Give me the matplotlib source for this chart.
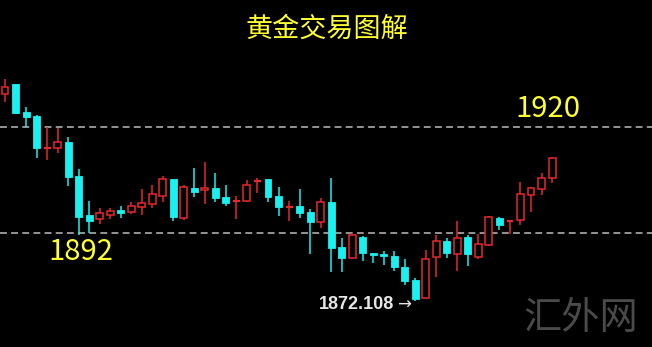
import numpy as np
import matplotlib
matplotlib.use("Agg")
import matplotlib.pyplot as plt
from matplotlib.patches import Rectangle

# ── DATA ──────────────────────────────────────────────────────
OPEN = [1928.6, 1931.2, 1923.9, 1922.8, 1914.4, 1914.4, 1916.0, 1907.1, 1896.9, 1895.8,
        1896.9, 1898.2, 1897.6, 1899.0, 1899.7, 1901.8, 1906.3, 1896.1, 1903.9, 1903.4,
        1903.9, 1901.6, 1900.3, 1900.5, 1905.5, 1906.3, 1901.8, 1898.7, 1899.2, 1897.6,
        1895.0, 1900.3, 1888.5, 1885.6, 1891.1, 1886.9, 1886.6, 1886.1, 1883.2, 1879.8,
        1875.1, 1885.8, 1890.0, 1886.6, 1891.1, 1885.8, 1889.0, 1896.1, 1895.3, 1895.5,
        1902.1, 1903.7, 1906.6]
HIGH = [1932.6, 1931.2, 1925.2, 1923.1, 1920.0, 1919.7, 1917.3, 1908.9, 1900.5, 1898.7,
        1898.7, 1899.2, 1900.3, 1903.7, 1904.7, 1907.1, 1906.3, 1904.7, 1909.2, 1910.8,
        1907.9, 1904.7, 1901.8, 1906.0, 1906.6, 1906.3, 1904.2, 1900.5, 1903.7, 1898.4,
        1901.3, 1906.6, 1890.8, 1892.1, 1891.3, 1886.9, 1887.4, 1887.4, 1885.3, 1880.3,
        1887.7, 1891.6, 1890.8, 1895.3, 1891.6, 1891.9, 1896.6, 1896.3, 1895.4, 1905.5,
        1904.2, 1907.9, 1912.1]
LOW = [1926.5, 1923.4, 1920.0, 1911.8, 1911.3, 1913.1, 1904.5, 1891.6, 1892.1, 1894.5,
       1895.8, 1896.1, 1897.1, 1896.9, 1898.7, 1900.3, 1895.3, 1895.5, 1901.6, 1899.7,
       1900.3, 1899.2, 1895.8, 1900.3, 1902.6, 1900.3, 1896.6, 1895.3, 1896.1, 1886.6,
       1893.4, 1881.9, 1881.9, 1885.3, 1884.8, 1884.3, 1883.7, 1882.2, 1878.5, 1874.3,
       1874.8, 1880.6, 1885.6, 1882.2, 1883.5, 1885.3, 1888.7, 1892.9, 1891.9, 1894.2,
       1897.6, 1902.1, 1905.3]
CLOSE = [1930.5, 1923.6, 1922.6, 1914.4, 1914.7, 1916.0, 1906.8, 1896.3, 1895.3, 1897.4,
         1897.9, 1897.4, 1899.2, 1900.0, 1902.4, 1906.3, 1896.3, 1904.2, 1902.9, 1903.9,
         1901.3, 1900.0, 1900.5, 1904.7, 1905.8, 1901.6, 1899.0, 1899.0, 1897.4, 1895.0,
         1900.3, 1888.2, 1885.6, 1891.6, 1886.9, 1886.4, 1886.1, 1883.2, 1879.5, 1874.8,
         1885.3, 1890.0, 1886.9, 1890.8, 1886.6, 1889.2, 1896.3, 1894.2, 1895.4, 1902.4,
         1903.9, 1906.6, 1911.8]

LEVELS = [1920, 1892]
LOW_LABEL = "1872.108"
TITLE = "黄金交易图解"
WATERMARK = "汇外网"

# ── STYLE ─────────────────────────────────────────────────────
UP_COLOR = "#E8282C"
DOWN_COLOR = "#1AF0F0"
BODY_W = 0.66

plt.rcParams["font.family"] = ["Noto Sans CJK SC", "DejaVu Sans"]

fig = plt.figure(figsize=(6.52, 3.47), dpi=100)
fig.patch.set_facecolor("black")
ax = fig.add_axes([0, 0, 1, 1])
ax.set_facecolor("black")
ax.set_xlim(-0.475, 61.5)
ax.set_ylim(1862.2, 1953.3)
ax.axis("off")

# dashed support / resistance lines
for lv in LEVELS:
    ax.axhline(lv, color="#BDBDBD", linestyle=(0, (4.5, 2.8)), linewidth=1.1, zorder=1)

# candles
for i, (o, h, l, c) in enumerate(zip(OPEN, HIGH, LOW, CLOSE)):
    up = c >= o
    col = UP_COLOR if up else DOWN_COLOR
    ax.vlines(i, l, h, color=col, linewidth=1.1, zorder=2)
    bottom, top = min(o, c), max(o, c)
    if top - bottom < 0.35:
        ax.hlines((o + c) / 2, i - BODY_W / 2, i + BODY_W / 2, color=col,
                  linewidth=1.6, zorder=3)
        continue
    if up:
        rect = Rectangle((i - BODY_W / 2, bottom), BODY_W, top - bottom,
                         facecolor="black", edgecolor=col, linewidth=1.1, zorder=3)
    else:
        rect = Rectangle((i - BODY_W / 2, bottom), BODY_W, top - bottom,
                         facecolor=col, edgecolor=col, linewidth=0.6, zorder=3)
    ax.add_patch(rect)

# level labels
ax.text(51.6, LEVELS[0] + 0.7, str(LEVELS[0]), color="#FFFF33", fontsize=21,
        ha="center", va="bottom")
ax.text(7.2, LEVELS[1] - 1.0, str(LEVELS[1]), color="#FFFF33", fontsize=21,
        ha="center", va="top")

# low marker
i_low = int(np.argmin(LOW))
ax.text(i_low - 0.4, LOW[i_low] - 1.0, "→", color="#E6E6E6", fontsize=12,
        family=["DejaVu Sans"], ha="right", va="center")
ax.text(i_low - 2.0, LOW[i_low] - 1.0, LOW_LABEL, color="#E6E6E6",
        fontsize=13, fontweight="bold", family=["Liberation Sans", "DejaVu Sans"],
        ha="right", va="center")

# title and watermark
fig.text(0.502, 0.915, TITLE, color="#FFFF33", fontsize=19.5, ha="center", va="center")
fig.text(0.89, 0.083, WATERMARK, color="#4A4A4A", fontsize=27.5, ha="center",
         va="center", fontweight="light")

fig.savefig("out.png", dpi=100, facecolor="black")
